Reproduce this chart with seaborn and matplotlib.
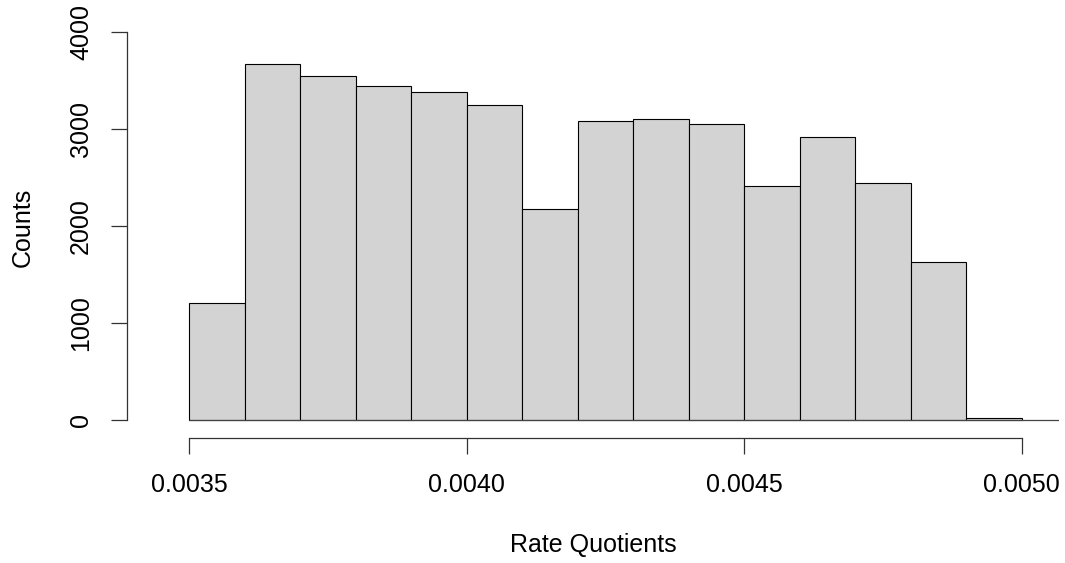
import numpy as np
import pandas as pd
import matplotlib
matplotlib.use("Agg")
import matplotlib.pyplot as plt
import seaborn as sns

# Data
bin_edges = [0.0035, 0.0036, 0.0037, 0.0038, 0.0039, 0.0040, 0.0041, 0.0042,
             0.0043, 0.0044, 0.0045, 0.0046, 0.0047, 0.0048, 0.0049, 0.0050]
counts = [1204, 3674, 3554, 3450, 3382, 3247, 2179, 3088, 3103, 3051,
          2413, 2917, 2441, 1631, 12]
x_ticks = [0.0035, 0.0040, 0.0045, 0.0050]
x_tick_labels = ["0.0035", "0.0040", "0.0045", "0.0050"]
y_ticks = [0, 1000, 2000, 3000, 4000]
y_tick_labels = ["0", "1000", "2000", "3000", "4000"]

sns.set_style("white")
plt.rcParams['font.family'] = ['Liberation Sans', 'DejaVu Sans']
plt.rcParams['text.color'] = 'black'
plt.rcParams['axes.labelcolor'] = 'black'
plt.rcParams['xtick.color'] = 'black'
plt.rcParams['ytick.color'] = 'black'

centers = [(bin_edges[i] + bin_edges[i + 1]) / 2 for i in range(len(counts))]
df = pd.DataFrame({"rate": centers, "count": counts})

W, H = 1065, 563
fig = plt.figure(figsize=(W / 100, H / 100), dpi=100)
ax = fig.add_axes([127 / W, (H - 437.7) / H, (1059 - 127) / W, (437.7 - 17) / H])

sns.histplot(data=df, x="rate", weights="count", bins=bin_edges, ax=ax,
             color="#D3D3D3", alpha=1, edgecolor="black", linewidth=0.8)

ax.set_xlim(0.003388, 0.005067)
ax.set_ylim(-188, 4160)
ax.hlines(0, bin_edges[0], 0.005067, color="#444444", linewidth=0.9)

for s in ["top", "right"]:
    ax.spines[s].set_visible(False)
for s in ["left", "bottom"]:
    ax.spines[s].set_color("#333333")
    ax.spines[s].set_linewidth(0.9)
ax.spines["left"].set_bounds(0, 4000)
ax.spines["bottom"].set_bounds(0.0035, 0.0050)

ax.set_xticks(x_ticks)
ax.set_xticklabels(x_tick_labels)
ax.set_yticks(y_ticks)
ax.set_yticklabels(y_tick_labels, rotation=90, va="center")
ax.tick_params(axis="both", direction="out", length=11.5, width=0.9,
               color="#333333", labelcolor="black", labelsize=18,
               left=True, bottom=True)
ax.tick_params(axis="x", pad=14)
ax.tick_params(axis="y", pad=13)

ax.set_xlabel("Rate Quotients", fontsize=18, labelpad=26, color="black")
ax.set_ylabel("Counts", fontsize=18, labelpad=25, color="black")
ax.grid(False)

fig.savefig("out.png", dpi=100, facecolor="white")
